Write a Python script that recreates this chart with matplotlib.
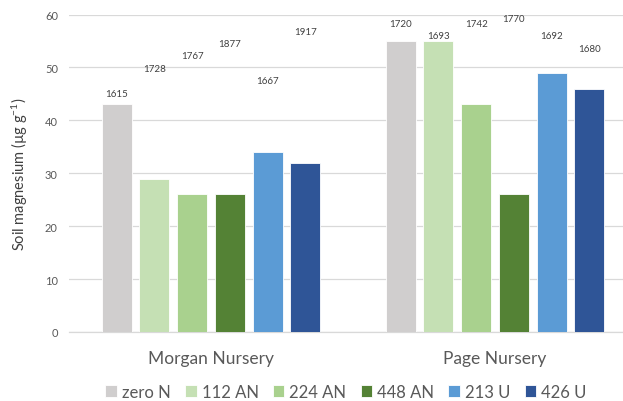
import matplotlib
matplotlib.use("Agg")
import matplotlib.pyplot as plt
import numpy as np

plt.rcParams['font.family'] = ['Lato', 'DejaVu Sans']
plt.rcParams['mathtext.fontset'] = 'custom'
plt.rcParams['mathtext.rm'] = 'Lato'
plt.rcParams['mathtext.it'] = 'Lato'

categories = ["Morgan Nursery", "Page Nursery"]
series = ["zero N", "112 AN", "224 AN", "448 AN", "213 U", "426 U"]
values = {
    "zero N": [43, 55],
    "112 AN": [29, 55],
    "224 AN": [26, 43],
    "448 AN": [26, 26],
    "213 U": [34, 49],
    "426 U": [32, 46],
}
annot = {
    "zero N": [1615, 1720],
    "112 AN": [1728, 1693],
    "224 AN": [1767, 1742],
    "448 AN": [1877, 1770],
    "213 U": [1667, 1692],
    "426 U": [1917, 1680],
}
# vertical placement of the annotation texts (layout only)
annot_y = {
    "zero N": [45.0, 58.3],
    "112 AN": [49.8, 56.0],
    "224 AN": [52.3, 58.3],
    "448 AN": [54.6, 59.2],
    "213 U": [47.5, 56.0],
    "426 U": [56.8, 53.6],
}
colors = ["#D0CECE", "#C5E0B4", "#A9D18E", "#548235", "#5B9BD5", "#2F5597"]

fig = plt.figure(figsize=(6.23, 4.02), dpi=100)
ax = fig.add_axes([69/623, 1-333/402, (637-69)/623, (333-15.5)/402])

x = np.arange(len(categories))
slot = 37.7/284
width = 30/284
for i, (s, c) in enumerate(zip(series, colors)):
    off = (i - 2.5) * slot
    ax.bar(x + off, values[s], width=width, color=c, label=s, zorder=3,
           edgecolor='white', linewidth=0.6)
    for j in range(len(categories)):
        ax.text(x[j] + off, annot_y[s][j], str(annot[s][j]), ha='center', va='center',
                fontsize=7, color='#404040', zorder=4)

ax.set_xlim(-0.5, 1.5)
ax.set_ylim(0, 60)
ax.set_yticks(np.arange(0, 61, 10))
ax.yaxis.grid(True, color='#D9D9D9', linewidth=0.9, zorder=0)
ax.set_axisbelow(True)
for sp in ['top', 'right', 'left']:
    ax.spines[sp].set_visible(False)
ax.spines['bottom'].set_color('#D9D9D9')
ax.spines['bottom'].set_linewidth(0.9)
ax.tick_params(axis='y', length=0, labelsize=8, labelcolor='#595959', pad=8)
ax.tick_params(axis='x', length=0, labelsize=12.5, labelcolor='#595959', pad=13)
ax.set_xticks(x)
ax.set_xticklabels(categories)
ax.set_ylabel('Soil magnesium (µg g$^{-1}$)', fontsize=10.5, color='#404040', labelpad=11)

fig.legend(loc='center', bbox_to_anchor=(346/623, 1-393/402), ncol=6, frameon=False,
           fontsize=12, handlelength=0.7, handleheight=0.7, handletextpad=0.3,
           columnspacing=0.85, labelcolor='#595959')

fig.savefig("out.png", dpi=100)
